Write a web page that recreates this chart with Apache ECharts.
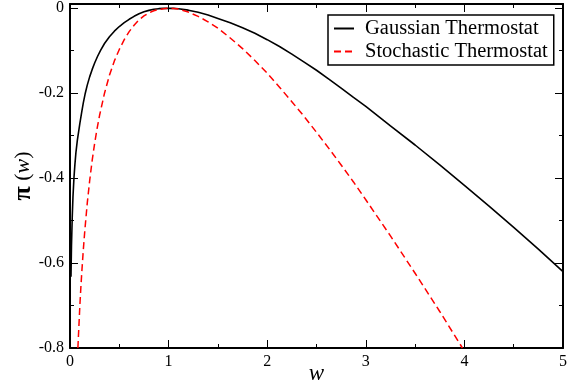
<!DOCTYPE html>
<html>
<head>
<meta charset="utf-8">
<script src="https://cdn.jsdelivr.net/npm/echarts@6/dist/echarts.min.js"></script>
<style>
  html, body { margin: 0; padding: 0; background: #fff; }
  #chart { width: 571px; height: 387px; }
</style>
</head>
<body>
<div id="chart"></div>
<script>
// values
var gaussW  = [0.01, 0.015, 0.023, 0.03, 0.04, 0.05, 0.06, 0.075, 0.088, 0.1, 0.12, 0.135, 0.155, 0.175, 0.2, 0.225, 0.25, 0.28, 0.31, 0.35, 0.4, 0.45, 0.5, 0.55, 0.6, 0.65, 0.7, 0.75, 0.8, 0.85, 0.9, 0.95, 1,
               1.05, 1.1, 1.2, 1.3, 1.4, 1.5, 1.625, 1.75, 1.875, 2, 2.125, 2.25, 2.375, 2.5, 2.625, 2.75, 2.875, 3, 3.25, 3.5, 3.75, 4, 4.25, 4.5, 4.75, 5];
var gaussPi = [-0.632, -0.56, -0.49, -0.445, -0.4, -0.367, -0.34, -0.31, -0.29, -0.271, -0.243, -0.223, -0.2, -0.181, -0.161, -0.144, -0.129, -0.113, -0.099, -0.083, -0.067, -0.054, -0.043, -0.034, -0.026, -0.019, -0.013, -0.0085, -0.005, -0.0025, -0.001, -0.0002, 0,
               -0.0003, -0.0012, -0.0045, -0.0095, -0.016, -0.024, -0.034, -0.046, -0.059, -0.074, -0.09, -0.108, -0.127, -0.146, -0.167, -0.188, -0.21, -0.231, -0.277, -0.322, -0.369, -0.417, -0.466, -0.516, -0.567, -0.62];

var stochW  = [0.08, 0.09, 0.1, 0.11, 0.12, 0.135, 0.15, 0.175, 0.2, 0.225, 0.25, 0.275, 0.3, 0.35, 0.4, 0.45, 0.5, 0.55, 0.6, 0.65, 0.7, 0.75, 0.8, 0.85, 0.9, 0.95, 1,
               1.05, 1.1, 1.2, 1.3, 1.4, 1.5, 1.625, 1.75, 1.875, 2, 2.125, 2.25, 2.375, 2.5, 2.625, 2.75, 2.875, 3, 3.25, 3.5, 3.75, 3.98];
var stochPi = [-0.8, -0.75, -0.7, -0.658, -0.62, -0.569, -0.524, -0.459, -0.405, -0.358, -0.318, -0.283, -0.252, -0.2, -0.158, -0.124, -0.097, -0.074, -0.055, -0.04, -0.027, -0.018, -0.011, -0.006, -0.003, -0.001, 0,
               -0.0006, -0.002, -0.009, -0.019, -0.032, -0.047, -0.07, -0.095, -0.123, -0.153, -0.186, -0.22, -0.255, -0.292, -0.33, -0.369, -0.409, -0.451, -0.536, -0.624, -0.714, -0.8];

var seriesNames = ['Gaussian Thermostat', 'Stochastic Thermostat'];

function pairs(xs, ys) {
    var out = [];
    for (var i = 0; i < xs.length; i++) out.push([xs[i], ys[i]]);
    return out;
}

var serif = 'Liberation Serif';
var frame = {show: true, onZero: false, lineStyle: {color: '#000', width: 2}};

function xAx(pos, labels) {
    return {
        type: 'value', position: pos, min: 0, max: 5, interval: 1,
        axisLine: frame,
        axisTick: {show: true, inside: true, length: 8, lineStyle: {color: '#000', width: 1}},
        minorTick: {show: true, splitNumber: 2, length: 4, lineStyle: {color: '#000', width: 1}},
        splitLine: {show: false},
        axisLabel: {show: labels, color: '#000', fontFamily: serif, fontSize: 16, margin: 6},
        name: labels ? 'w' : '', nameLocation: 'middle', nameGap: 14, nameMoveOverlap: false,
        nameTextStyle: {color: '#000', fontFamily: serif, fontSize: 23, fontStyle: 'italic', verticalAlign: 'top'}
    };
}
function yAx(pos, labels) {
    return {
        type: 'value', position: pos, min: -0.8, max: 0.01, interval: 0.2,
        axisLine: frame,
        axisTick: {show: true, inside: true, length: 8, lineStyle: {color: '#000', width: 1}},
        minorTick: {show: true, splitNumber: 2, length: 4, lineStyle: {color: '#000', width: 1}},
        splitLine: {show: false},
        axisLabel: {show: labels, showMaxLabel: false, color: '#000', fontFamily: serif, fontSize: 16, margin: 6},
        name: labels ? '{p|π} ({i|w})' : '', nameLocation: 'middle', nameGap: 34, nameRotate: 90, nameMoveOverlap: false,
        nameTextStyle: {
            color: '#000', fontFamily: serif, fontSize: 22,
            rich: {
                p: {fontFamily: serif, fontSize: 26, fontWeight: 'bold', color: '#000'},
                i: {fontFamily: serif, fontSize: 22, fontStyle: 'italic', color: '#000'}
            }
        }
    };
}

var chart = echarts.init(document.getElementById('chart'));
var option = {
    animation: false,
    backgroundColor: '#fff',
    grid: {left: 70, top: 4, right: 8, bottom: 39, containLabel: false, outerBoundsMode: 'none'},
    legend: {
        orient: 'vertical', left: 328, top: 15,
        padding: [3, 6, 3, 5], itemGap: 2, itemWidth: 20, itemHeight: 17,
        borderColor: '#000', borderWidth: 1.5, backgroundColor: '#fff',
        itemStyle: {opacity: 0},
        textStyle: {color: '#000', fontFamily: serif, fontSize: 20.5, padding: [0, 0, 0, 6]},
        data: seriesNames
    },
    xAxis: [xAx('bottom', true), xAx('top', false)],
    yAxis: [yAx('left', true), yAx('right', false)],
    series: [
        {
            name: seriesNames[0], type: 'line', symbol: 'none', smooth: false,
            lineStyle: {color: '#000', width: 1.6},
            itemStyle: {color: '#000'},
            data: pairs(gaussW, gaussPi)
        },
        {
            name: seriesNames[1], type: 'line', symbol: 'none', smooth: false,
            lineStyle: {color: '#ff0000', width: 1.5, type: [7, 4]},
            itemStyle: {color: '#ff0000'},
            data: pairs(stochW, stochPi)
        }
    ]
};
chart.setOption(option);
</script>
</body>
</html>
